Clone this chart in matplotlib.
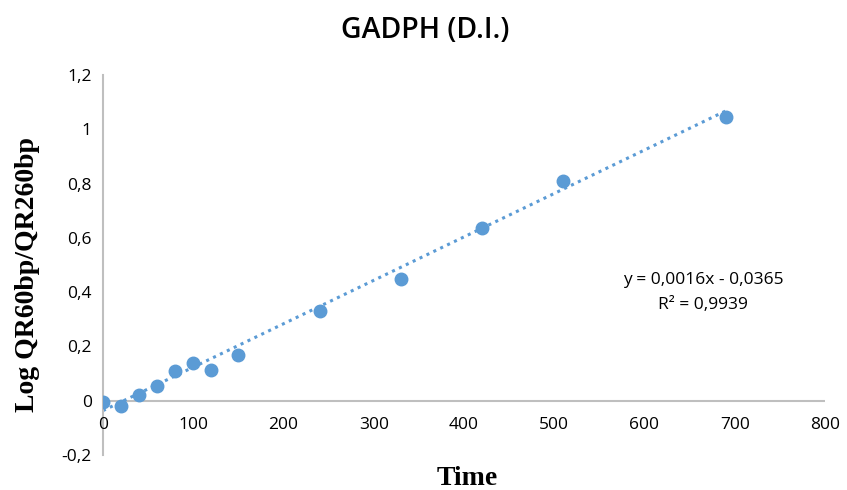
import matplotlib
matplotlib.use("Agg")
import matplotlib.pyplot as plt
import numpy as np

# Data
time = [0, 20, 40, 60, 80, 100, 120, 150, 240, 330, 420, 510, 690]
log_ratio = [-0.004, -0.018, 0.022, 0.055, 0.11, 0.14, 0.114, 0.168, 0.332, 0.45, 0.638, 0.81, 1.046]
slope = 0.0016
intercept = -0.0365
xticks = [0, 100, 200, 300, 400, 500, 600, 700, 800]
yticks = [-0.2, 0, 0.2, 0.4, 0.6, 0.8, 1.0, 1.2]
ytick_labels = ["-0,2", "0", "0,2", "0,4", "0,6", "0,8", "1", "1,2"]

color = "#5B9BD5"
sans = ["Open Sans", "DejaVu Sans"]

fig = plt.figure(figsize=(8.47, 4.9), dpi=100)
ax = fig.add_axes([0.1216, 0.0714, 0.8524, 0.7756])

ax.set_xlim(0, 800)
ax.set_ylim(-0.2, 1.2)

for s in ["top", "right", "bottom"]:
    ax.spines[s].set_visible(False)
ax.spines["left"].set_position(("data", 0))
ax.spines["left"].set_color("#BFBFBF")
ax.spines["left"].set_linewidth(1.5)
ax.axhline(0, color="#BFBFBF", lw=1.5, zorder=1)

# trendline
xt = np.array([min(time), max(time)])
ax.plot(xt, slope * xt + intercept, linestyle=(0, (1, 1.5)), color=color, lw=2.2, zorder=2)
ax.plot(time, log_ratio, "o", color=color, markersize=9, zorder=3)

ax.set_yticks(yticks)
ax.set_yticklabels(ytick_labels, family=sans, fontsize=12.5)
ax.tick_params(axis="y", length=0, pad=8)

ax.set_xticks(xticks)
ax.set_xticklabels([])
ax.tick_params(axis="x", length=0)
# x tick labels sit just below the y=0 line
for t in xticks:
    ax.text(t, -0.06, str(t), ha="center", va="top", fontsize=12.5, family=sans)

ax.text(665, 0.445, "y = 0,0016x - 0,0365", ha="center", va="center", fontsize=12.5, family=sans)
ax.text(665, 0.352, "R² = 0,9939", ha="center", va="center", fontsize=12.5, family=sans)

fig.text(0.502, 0.938, "GADPH (D.I.)", ha="center", va="center", fontsize=20.5,
         family=sans, fontweight="semibold")
fig.text(0.032, 0.44, "Log QR60bp/QR260bp", ha="center", va="center", rotation=90,
         fontsize=20, family="Liberation Serif", fontweight="bold")
fig.text(0.552, 0.024, "Time", ha="center", va="center",
         fontsize=20, family="Liberation Serif", fontweight="bold")

fig.savefig("out.png", dpi=100)
